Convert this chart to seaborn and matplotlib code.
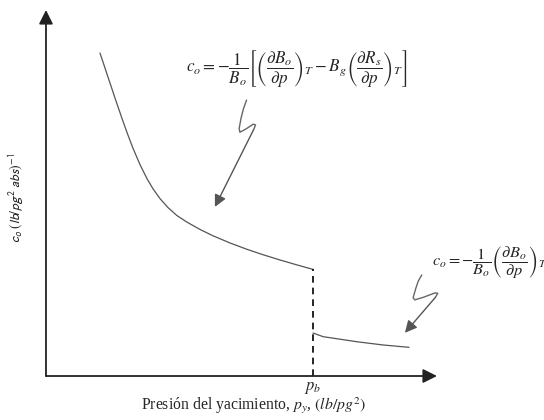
import matplotlib
matplotlib.use("Agg")
import matplotlib.pyplot as plt
import seaborn as sns

# Oil compressibility vs reservoir pressure (arbitrary units, 0-100 on both axes)
p_below = [13.81, 15.09, 16.37, 17.90, 19.69, 20.97, 22.25, 24.04, 25.83,
           27.37, 29.16, 31.20, 33.50, 36.06, 39.39, 42.71, 47.06, 51.41,
           55.50, 59.85, 63.94, 68.29]          # pressure below bubble point
co_below = [88.25, 84.15, 80.05, 75.15, 69.60, 65.82, 62.24, 57.77, 53.92,
            51.15, 48.47, 46.02, 43.83, 42.04, 40.04, 38.31, 36.35, 34.61,
            33.14, 31.70, 30.43, 29.13]
p_above = [68.29, 70.90, 79.46, 86.27, 92.84]    # pressure above bubble point
co_above = [11.75, 10.74, 9.37, 8.47, 7.84]
p_bubble = 68.29

# hand-drawn pointer squiggles
sq1_x = [51.3, 50.5, 49.9, 49.4, 49.6, 51.0, 53.0, 53.6, 53.1]
sq1_y = [75.4, 73.0, 70.5, 67.6, 66.6, 67.4, 68.8, 68.6, 67.3]
sq1_tip = (43.2, 46.2)
sq2_x = [96.1, 95.2, 94.6, 93.9, 94.3, 96.5, 99.5, 100.2, 99.6]
sq2_y = [27.6, 25.9, 24.0, 21.4, 20.8, 21.5, 22.7, 22.6, 21.5]
sq2_tip = (91.8, 11.8)

sns.set_theme(style="white")
plt.rcParams["font.family"] = ["Liberation Serif", "DejaVu Serif"]
plt.rcParams["mathtext.fontset"] = "stix"

fig = plt.figure(figsize=(5.44, 4.2), dpi=100)
ax = fig.add_axes([0, 0, 1, 1])
ax.set_xlim(-11.76, 127.37)
ax.set_ylim(-12.02, 102.73)
ax.axis("off")

curve_col = "#555555"
sns.lineplot(x=p_below, y=co_below, ax=ax, color=curve_col, lw=0.9, sort=False)
sns.lineplot(x=p_above, y=co_above, ax=ax, color=curve_col, lw=0.9, sort=False)

# bubble-point discontinuity
ax.plot([p_bubble, p_bubble], [0, co_below[-1]], color="black", lw=1.2,
        ls=(0, (4, 3)))

# axes with arrow heads
arrow_kw = dict(arrowstyle="-|>,head_length=0.6,head_width=0.3",
                color="#222222", lw=1.3, shrinkA=0, shrinkB=0,
                mutation_scale=14)
ax.annotate("", xy=(100, 0), xytext=(0, 0), arrowprops=arrow_kw)
ax.annotate("", xy=(0, 100), xytext=(0, 0), arrowprops=arrow_kw)

# squiggle pointers
sq_kw = dict(arrowstyle="-|>,head_length=0.6,head_width=0.3",
             color="#555555", lw=1.0, shrinkA=0, shrinkB=0,
             mutation_scale=12)
ax.plot(sq1_x, sq1_y, color="#666666", lw=1.0)
ax.annotate("", xy=sq1_tip, xytext=(sq1_x[-1], sq1_y[-1]), arrowprops=sq_kw)
ax.plot(sq2_x, sq2_y, color="#666666", lw=1.0)
ax.annotate("", xy=sq2_tip, xytext=(sq2_x[-1], sq2_y[-1]), arrowprops=sq_kw)

# labels
ax.text(53.2, -8.2, r"Presión del yacimiento, $p_y$, $(lb/pg^2)$",
        ha="center", va="center", fontsize=11.3)
ax.text(-7.5, 48.6, r"$c_o\ (lb/pg^2\ abs)^{-1}$", rotation=90,
        ha="center", va="center", fontsize=9.8, math_fontfamily="stixsans")
ax.text(p_bubble, -3.4, r"$p_b$", ha="center", va="center", fontsize=12)

ax.text(64.2, 83.9,
        r"$c_o=-\dfrac{1}{B_o}\left[\left(\dfrac{\partial B_o}{\partial p}\right)_T"
        r"-B_g\left(\dfrac{\partial R_s}{\partial p}\right)_T\right]$",
        ha="center", va="center", fontsize=12.3)
ax.text(98.7, 30.9,
        r"$c_o=-\dfrac{1}{B_o}\left(\dfrac{\partial B_o}{\partial p}\right)_T$",
        ha="left", va="center", fontsize=11.8)

fig.savefig("out.png", dpi=100, facecolor="white")
